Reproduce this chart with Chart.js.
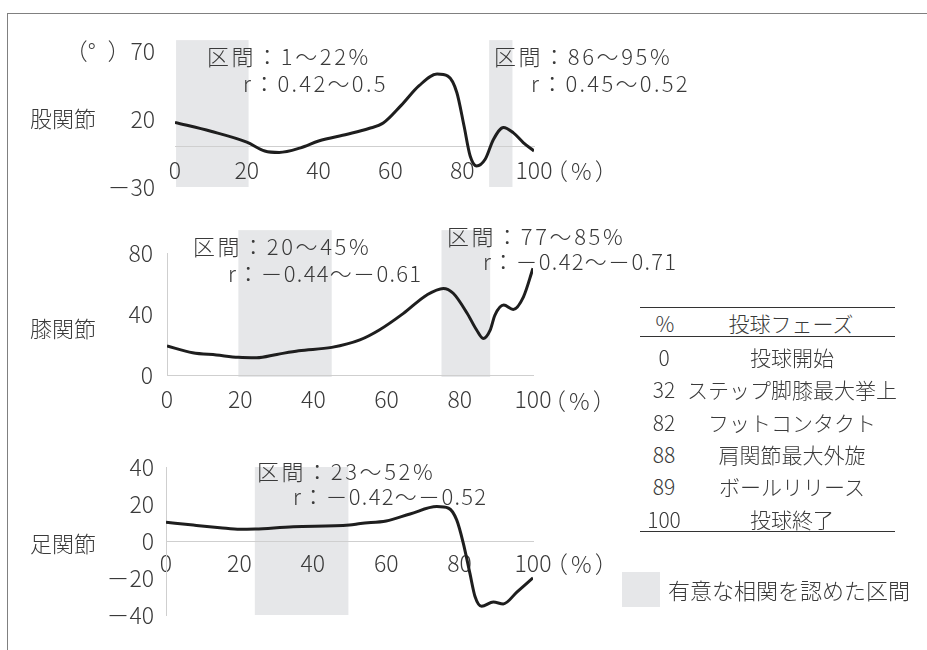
<!DOCTYPE html>
<html lang="ja">
<head>
<meta charset="utf-8">
<script src="https://cdn.jsdelivr.net/npm/chart.js@4.4.0/dist/chart.umd.min.js"></script>
<style>
  html, body { margin: 0; padding: 0; background: #fff; }
  body {
    width: 927px; height: 650px; position: relative; overflow: hidden;
    font-family: "Noto Sans CJK JP", "Noto Sans", sans-serif; font-weight: 300; color: #3a3a3a;
  }
  .marco { position: absolute; left: 7px; top: 13px; width: 940px; height: 660px;
           border-top: 1.5px solid #808080; border-left: 1.5px solid #808080; }
  canvas { position: absolute; left: 0; }
  .txt { position: absolute; white-space: nowrap; font-size: 22px; line-height: 26px; }
  .int { letter-spacing: 2.6px; }
  .rp { letter-spacing: 2.3px; }
  .rn { letter-spacing: 1.3px; }
  .pct { font-size: 23px; letter-spacing: 3px; }
  .regla { position: absolute; left: 640px; width: 255px; height: 0; border-top: 1.5px solid #333; }
  .celda { position: absolute; white-space: nowrap; font-size: 21px; line-height: 26px;
           transform: translateX(-50%); }
  .caja { position: absolute; left: 622px; top: 572px; width: 38px; height: 35px; background: #e6e7e9; }
</style>
</head>
<body>
<div class="marco"></div>

<canvas id="chartCadera" width="600" height="230" style="top:0px"></canvas>
<canvas id="chartRodilla" width="600" height="220" style="top:200px"></canvas>
<canvas id="chartTobillo" width="600" height="230" style="top:420px"></canvas>

<!-- nombres de articulaciones -->
<div class="txt" style="left:30px; top:104px">股関節</div>
<div class="txt" style="left:30px; top:314px">膝関節</div>
<div class="txt" style="left:30px; top:529px">足関節</div>

<!-- unidad del eje x -->
<div class="txt pct" style="left:545px; top:157px">（%）</div>
<div class="txt pct" style="left:543px; top:387px">（%）</div>
<div class="txt pct" style="left:545px; top:550px">（%）</div>

<!-- intervalos con correlación -->
<div class="txt int" style="left:207px; top:42px">区間：1～22%</div>
<div class="txt rp" style="left:243px; top:69px">r：0.42～0.5</div>
<div class="txt int" style="left:494px; top:42px">区間：86～95%</div>
<div class="txt rp" style="left:531px; top:69px">r：0.45～0.52</div>

<div class="txt int" style="left:193px; top:232px">区間：20～45%</div>
<div class="txt rn" style="left:228px; top:259px">r：－0.44～－0.61</div>
<div class="txt int" style="left:447px; top:222px">区間：77～85%</div>
<div class="txt rn" style="left:483px; top:247px">r：－0.42～－0.71</div>

<div class="txt int" style="left:257px; top:457px">区間：23～52%</div>
<div class="txt rn" style="left:293px; top:482px">r：－0.42～－0.52</div>

<!-- tabla de fases -->
<div class="regla" style="top:307px"></div>
<div class="regla" style="top:336px"></div>
<div class="regla" style="top:531px"></div>
<div id="tablaFases"></div>

<!-- leyenda -->
<div class="caja"></div>
<div class="txt" style="left:668px; top:576px">有意な相関を認めた区間</div>

<script>
// Cadera (股関節)
const caderaX = [0, 10, 20, 25, 29, 35, 40, 48, 54, 58, 63, 68, 73, 76, 78.5, 80.5, 82.2, 84, 86.4, 88.7, 91.5, 94.2, 97, 100];
const caderaY = [17.5, 11, 3, -3.5, -4.6, -1.2, 3.8, 8.8, 13, 17, 30, 44.5, 53, 51.5, 39.5, 15, -7, -14.5, -9.6, 5, 13.8, 10, 2.7, -3.5];
const caderaTicks = [-30, 20, 70];
const caderaZonas = [[0.3, 20.5], [87.5, 94]];

// Rodilla (膝関節)
const rodillaX = [0, 7, 13.5, 19.5, 24.5, 30, 36, 45, 52.7, 58, 64.6, 71, 75.5, 78.2, 82, 84.6, 86.4, 88.3, 89.6, 92, 94.6, 97.4, 100];
const rodillaY = [19, 14.6, 13.1, 11.6, 11.3, 13.5, 15.9, 18.1, 23, 29.5, 40.4, 52.5, 56.8, 53.6, 40.5, 29.5, 24, 29.5, 39.3, 45.9, 43, 51.3, 70];
const rodillaTicks = [0, 40, 80];
const rodillaZonas = [[19.5, 45], [75, 88.3]];

// Tobillo (足関節)
const tobilloX = [0, 7.4, 14.7, 20.2, 24.3, 34.7, 50, 53, 60, 66.5, 73.8, 77, 79.2, 81, 82.8, 84.2, 86, 89.2, 91.9, 95.6, 100];
const tobilloY = [10.1, 8.6, 7.2, 6.3, 6.5, 7.7, 8.6, 9.5, 10.8, 14.6, 18.6, 17.7, 11.4, -1.1, -17.4, -30, -35.3, -33, -34, -27.6, -19.9];
const tobilloTicks = [-40, -20, 0, 20, 40];
const tobilloZonas = [[24.2, 49.7]];

// Tabla de fases del lanzamiento
const fasePct = ["0", "32", "82", "88", "89", "100"];
const faseNombre = ["投球開始", "ステップ脚膝最大挙上", "フットコンタクト", "肩関節最大外旋", "ボールリリース", "投球終了"];

const fuente = { family: "'Noto Sans CJK JP', 'Noto Sans', sans-serif", size: 23, weight: 300 };
const colorTexto = "#3a3a3a";
const colorZona = "#e6e7e9";

function armarTabla() {
  const cont = document.getElementById("tablaFases");
  let html = `<div class="celda" style="left:665px; top:310px">%</div>
    <div class="celda" style="left:791px; top:310px">投球フェーズ</div>`;
  fasePct.forEach((p, i) => {
    const top = 344 + i * 32.3;
    html += `<div class="celda" style="left:664px; top:${top}px">${p}</div>
      <div class="celda" style="left:792px; top:${top}px">${faseNombre[i]}</div>`;
  });
  cont.innerHTML = html;
}

// zonas sombreadas (intervalos significativos)
const pluginZonas = {
  id: "zonas",
  beforeDraw(chart, args, opts) {
    const { ctx } = chart;
    const x = chart.scales.x;
    const y = chart.scales.y;
    ctx.save();
    ctx.fillStyle = colorZona;
    opts.rangos.forEach(([desde, hasta]) => {
      const x0 = x.getPixelForValue(desde);
      const x1 = x.getPixelForValue(hasta);
      const y0 = y.getPixelForValue(opts.alto);
      const y1 = y.getPixelForValue(opts.bajo);
      ctx.fillRect(x0, y0, x1 - x0, y1 - y0);
    });
    ctx.restore();
  },
};

function formatoTick(v, unidad) {
  const txt = v < 0 ? "－" + Math.abs(v) : String(v);
  return unidad && v === unidad.valor ? unidad.texto + txt : txt;
}

function crearGrafico(id, xs, ys, cfg) {
  return new Chart(document.getElementById(id), {
    type: "line",
    data: {
      datasets: [
        {
          data: xs.map((x, i) => ({ x: x, y: ys[i] })),
          borderColor: "#1e1e1e",
          borderWidth: 3,
          pointRadius: 0,
          cubicInterpolationMode: "monotone",
          fill: false,
        },
      ],
    },
    options: {
      responsive: false,
      animation: false,
      events: [],
      layout: { autoPadding: false, padding: cfg.padding },
      plugins: {
        legend: { display: false },
        tooltip: { enabled: false },
        zonas: { rangos: cfg.zonas, bajo: cfg.zonaBajo, alto: cfg.zonaAlto },
      },
      scales: {
        x: {
          type: "linear",
          min: 0,
          max: 100,
          position: { y: 0 },
          grid: { display: false, drawTicks: false },
          border: { display: true, color: "#cfcfcf", width: 1 },
          ticks: { stepSize: 20, padding: cfg.padX, font: fuente, color: colorTexto, maxRotation: 0, autoSkip: false },
        },
        y: {
          type: "linear",
          min: cfg.min,
          max: cfg.max,
          grid: { display: false, drawTicks: false },
          border: { display: cfg.bordeY, color: "#cfcfcf", width: 1 },
          ticks: {
            padding: cfg.padY,
            font: fuente,
            color: colorTexto,
            callback: (v) => formatoTick(v, cfg.unidad),
          },
          afterBuildTicks: (s) => {
            s.ticks = cfg.ticks.map((v) => ({ value: v }));
          },
          afterFit: (s) => {
            s.width = cfg.anchoY;
          },
        },
      },
    },
    plugins: [pluginZonas],
  });
}

crearGrafico("chartCadera", caderaX, caderaY, {
  min: -30, max: 70, ticks: caderaTicks, zonas: caderaZonas, zonaBajo: -30, zonaAlto: 78,
  padding: { left: 0, right: 66, top: 51, bottom: 43 }, anchoY: 175, padY: 20, padX: 10,
  bordeY: false, unidad: { valor: 70, texto: "（°\u2002）" },
});
crearGrafico("chartRodilla", rodillaX, rodillaY, {
  min: 0, max: 80, ticks: rodillaTicks, zonas: rodillaZonas, zonaBajo: -1.3, zonaAlto: 95,
  padding: { left: 0, right: 67, top: 53, bottom: 45 }, anchoY: 167, padY: 14, padX: 10,
  bordeY: true,
});
crearGrafico("chartTobillo", tobilloX, tobilloY, {
  min: -40, max: 40, ticks: tobilloTicks, zonas: tobilloZonas, zonaBajo: -40, zonaAlto: 40,
  padding: { left: 0, right: 67, top: 47, bottom: 35 }, anchoY: 166, padY: 12, padX: 8,
  bordeY: true,
});

armarTabla();
</script>
</body>
</html>
